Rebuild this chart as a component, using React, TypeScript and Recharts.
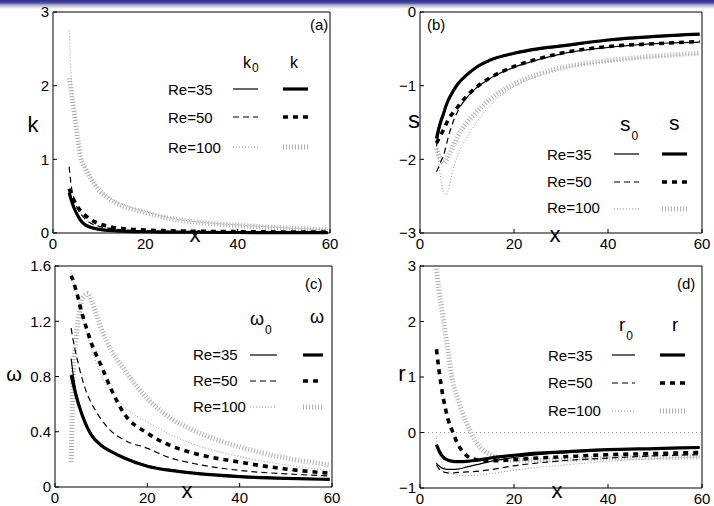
import React from 'react';
import { LineChart, Line, XAxis, YAxis, Legend, ReferenceLine } from 'recharts';

const xPos = [3.5, 4, 4.5, 5, 5.5, 6, 7, 8, 10, 12, 15, 20, 25, 30, 40, 50, 59.5];
const xTicks = [0, 20, 40, 60];
const reLabels = ['Re=35', 'Re=50', 'Re=100'];

// (a) k
const k0Re35 = [0.6, 0.45, 0.36, 0.28, 0.22, 0.17, 0.1, 0.07, 0.045, 0.035, 0.025, 0.017, 0.012, 0.01, 0.007, 0.005, 0.004];
const kRe35 = [0.55, 0.44, 0.35, 0.28, 0.22, 0.17, 0.11, 0.08, 0.05, 0.035, 0.025, 0.017, 0.012, 0.01, 0.007, 0.005, 0.004];
const k0Re50 = [0.9, 0.62, 0.48, 0.38, 0.31, 0.26, 0.19, 0.14, 0.09, 0.065, 0.045, 0.03, 0.022, 0.017, 0.012, 0.009, 0.007];
const kRe50 = [0.6, 0.52, 0.45, 0.39, 0.34, 0.3, 0.24, 0.19, 0.125, 0.09, 0.06, 0.04, 0.03, 0.024, 0.018, 0.014, 0.012];
const k0Re100 = [2.75, 2.05, 1.75, 1.5, 1.25, 1.05, 0.9, 0.78, 0.6, 0.49, 0.39, 0.29, 0.21, 0.16, 0.11, 0.07, 0.045];
const kRe100 = [2.1, 1.9, 1.68, 1.45, 1.22, 1.03, 0.88, 0.76, 0.58, 0.47, 0.37, 0.28, 0.2, 0.155, 0.105, 0.068, 0.044];
const kTicks = [0, 1, 2, 3];

// (b) s
const s0Re35 = [-1.82, -1.64, -1.5, -1.4, -1.3, -1.21, -1.09, -0.99, -0.86, -0.76, -0.66, -0.57, -0.51, -0.47, -0.39, -0.34, -0.31];
const sRe35 = [-1.72, -1.58, -1.47, -1.38, -1.28, -1.2, -1.08, -0.98, -0.85, -0.75, -0.65, -0.56, -0.5, -0.46, -0.38, -0.33, -0.3];
const s0Re50 = [-2.17, -2.1, -2.02, -1.95, -1.83, -1.7, -1.5, -1.35, -1.16, -1.03, -0.9, -0.75, -0.65, -0.57, -0.48, -0.43, -0.41];
const sRe50 = [-1.78, -1.72, -1.66, -1.6, -1.53, -1.46, -1.37, -1.29, -1.14, -1.02, -0.89, -0.74, -0.64, -0.56, -0.47, -0.43, -0.4];
const s0Re100 = [-1.78, -2.05, -2.3, -2.45, -2.48, -2.42, -2.15, -1.95, -1.7, -1.5, -1.26, -1.01, -0.87, -0.77, -0.67, -0.61, -0.57];
const sRe100 = [-1.85, -1.95, -2.02, -2.05, -2.02, -1.96, -1.83, -1.69, -1.5, -1.36, -1.18, -0.98, -0.85, -0.76, -0.66, -0.6, -0.56];
const sTicks = [-3, -2, -1, 0];

// (c) omega
const w0Re35 = [0.93, 0.8, 0.7, 0.63, 0.57, 0.52, 0.44, 0.38, 0.31, 0.265, 0.215, 0.155, 0.125, 0.105, 0.08, 0.066, 0.058];
const wRe35 = [0.81, 0.74, 0.67, 0.61, 0.56, 0.51, 0.43, 0.37, 0.3, 0.26, 0.21, 0.15, 0.12, 0.1, 0.075, 0.062, 0.055];
const w0Re50 = [1.15, 1.05, 0.97, 0.9, 0.83, 0.77, 0.67, 0.6, 0.49, 0.41, 0.34, 0.28, 0.21, 0.17, 0.12, 0.095, 0.08];
const wRe50 = [1.53, 1.49, 1.43, 1.37, 1.3, 1.24, 1.13, 1.03, 0.88, 0.72, 0.53, 0.39, 0.3, 0.245, 0.18, 0.13, 0.1];
const w0Re100 = [1.57, 1.5, 1.43, 1.36, 1.29, 1.22, 1.1, 0.99, 0.81, 0.7, 0.58, 0.47, 0.38, 0.31, 0.22, 0.16, 0.12];
const wRe100 = [0.18, 0.85, 1.05, 1.2, 1.3, 1.37, 1.4, 1.34, 1.15, 1.0, 0.85, 0.64, 0.5, 0.41, 0.29, 0.21, 0.16];
const wTicks = [0, 0.4, 0.8, 1.2, 1.6];

// (d) r
const r0Re35 = [-0.55, -0.6, -0.63, -0.65, -0.66, -0.665, -0.665, -0.66, -0.62, -0.58, -0.52, -0.45, -0.4, -0.37, -0.32, -0.29, -0.27];
const rRe35 = [-0.22, -0.32, -0.4, -0.45, -0.48, -0.5, -0.52, -0.525, -0.52, -0.5, -0.46, -0.41, -0.37, -0.35, -0.31, -0.29, -0.27];
const r0Re50 = [-0.58, -0.65, -0.69, -0.71, -0.72, -0.73, -0.73, -0.72, -0.71, -0.7, -0.67, -0.6, -0.55, -0.51, -0.46, -0.42, -0.4];
const rRe50 = [1.5, 1.15, 0.85, 0.6, 0.4, 0.23, 0.0, -0.2, -0.42, -0.49, -0.51, -0.49, -0.46, -0.44, -0.4, -0.38, -0.36];
const r0Re100 = [-0.1, -0.35, -0.5, -0.6, -0.66, -0.7, -0.75, -0.77, -0.78, -0.77, -0.74, -0.68, -0.63, -0.59, -0.52, -0.47, -0.44];
const rRe100 = [2.95, 2.6, 2.3, 2.02, 1.72, 1.45, 0.9, 0.62, 0.15, -0.18, -0.4, -0.5, -0.5, -0.49, -0.46, -0.45, -0.44];
const rTicks = [-1, 0, 1, 2, 3];

const FONT = '"Liberation Sans", Arial, Helvetica, sans-serif';

const STYLES: Record<string, any> = {
  thin100: { stroke: '#999', strokeWidth: 1, strokeDasharray: '1 2' },
  thick100: { stroke: '#adadad', strokeWidth: 5, strokeDasharray: '1 2' },
  thin50: { stroke: '#000', strokeWidth: 1.2, strokeDasharray: '6 4' },
  thick50: { stroke: '#000', strokeWidth: 3.6, strokeDasharray: '5 5' },
  thin35: { stroke: '#000', strokeWidth: 1.2 },
  thick35: { stroke: '#000', strokeWidth: 3.2 },
};
const ORDER = ['thin100', 'thick100', 'thin50', 'thick50', 'thin35', 'thick35'];

const minus = (v: number) => String(v).replace('-', '\u2212');

function legendSvg(c: any) {
  const rowKeys = [['thin35', 'thick35'], ['thin50', 'thick50'], ['thin100', 'thick100']];
  return (
    <svg width={357} height={253} style={{ fontFamily: FONT, overflow: 'visible' }}>
      <text x={c.tag[0]} y={c.tag[1]} fontSize={15}>{c.tagText}</text>
      <text x={c.head0[0]} y={c.head0[1]} fontSize={c.headSize}>
        {c.sym}
        <tspan dx={1} dy={c.subDy} fontSize={12}>0</tspan>
      </text>
      <text x={c.head1[0]} y={c.head1[1]} fontSize={c.headSize}>{c.sym}</text>
      {reLabels.map((lbl, i) => (
        <g key={lbl}>
          <text x={c.textX} y={c.textY[i]} fontSize={15}>{lbl}</text>
          <line x1={c.thinX[0]} x2={c.thinX[1]} y1={c.lineY[i]} y2={c.lineY[i]} {...STYLES[rowKeys[i][0]]} />
          <line x1={c.thickX[0]} x2={c.thickX[1]} y1={c.lineY[i]} y2={c.lineY[i]} {...STYLES[rowKeys[i][1]]} />
        </g>
      ))}
    </svg>
  );
}

function Panel({ c }: { c: any }) {
  const rows = xPos.map((x, i) => ({
    x,
    thin35: c.series[0][i],
    thick35: c.series[1][i],
    thin50: c.series[2][i],
    thick50: c.series[3][i],
    thin100: c.series[4][i],
    thick100: c.series[5][i],
  }));
  const tickStyle = { fontSize: 15, fill: '#000', fontFamily: FONT };
  const axisStroke = { stroke: '#000', strokeWidth: 1 };
  return (
    <div style={{ position: 'absolute', left: c.left, top: c.top }}>
      <LineChart width={357} height={253} data={rows} margin={c.margin}>
        <XAxis
          dataKey="x"
          type="number"
          domain={[0, 60]}
          ticks={xTicks}
          height={c.xAxisH}
          tickSize={-4}
          tickMargin={9}
          tick={tickStyle}
          axisLine={axisStroke}
          tickLine={axisStroke}
          label={{
            content: () => (
              <text x={c.xLabel[0]} y={c.xLabel[1]} fontSize={22} fontFamily={FONT} textAnchor="middle">x</text>
            ),
          }}
        />
        <XAxis
          xAxisId="top"
          orientation="top"
          type="number"
          domain={[0, 60]}
          ticks={xTicks}
          height={1}
          tickSize={-4}
          tick={false}
          axisLine={axisStroke}
          tickLine={axisStroke}
        />
        <YAxis
          type="number"
          domain={c.yDomain}
          ticks={c.yTicks}
          width={c.yAxisW}
          tickSize={-4}
          tickMargin={8}
          tick={tickStyle}
          tickFormatter={minus}
          axisLine={axisStroke}
          tickLine={axisStroke}
          label={{
            content: () => (
              <text x={c.yLabel[0]} y={c.yLabel[1]} fontSize={c.yLabelSize} fontFamily={FONT} textAnchor="middle">{c.sym}</text>
            ),
          }}
        />
        <YAxis
          yAxisId="right"
          orientation="right"
          type="number"
          domain={c.yDomain}
          ticks={c.yTicks}
          width={1}
          tickSize={-4}
          tick={false}
          axisLine={axisStroke}
          tickLine={axisStroke}
        />
        {c.zeroLine && (
          <ReferenceLine y={0} stroke="#999" strokeWidth={1} strokeDasharray="1 3" />
        )}
        {ORDER.map((k) => (
          <Line
            key={k}
            dataKey={k}
            type="monotone"
            dot={false}
            isAnimationActive={false}
            {...STYLES[k]}
          />
        ))}
        <Legend
          layout="horizontal"
          verticalAlign="middle"
          align="center"
          content={() => legendSvg(c)}
          wrapperStyle={{ left: 0, top: 0, width: 357, height: 253, pointerEvents: 'none' }}
        />
      </LineChart>
    </div>
  );
}

const panelA = {
  left: 0, top: 0,
  margin: { top: 11, right: 26, left: 0, bottom: 0 },
  xAxisH: 20, yAxisW: 53,
  series: [k0Re35, kRe35, k0Re50, kRe50, k0Re100, kRe100],
  yDomain: [0, 3], yTicks: kTicks,
  sym: 'k', yLabel: [33, 132], yLabelSize: 22, xLabel: [195, 242],
  tagText: '(a)', tag: [310, 30],
  head0: [243, 68], head1: [290, 68], headSize: 16, subDy: 4,
  textX: 168, textY: [95, 123, 153], lineY: [89, 117, 147],
  thinX: [233, 258], thickX: [283, 308],
};

const panelB = {
  left: 357, top: 0,
  margin: { top: 11, right: 11, left: 0, bottom: 0 },
  xAxisH: 20, yAxisW: 63,
  series: [s0Re35, sRe35, s0Re50, sRe50, s0Re100, sRe100],
  yDomain: [-3, 0], yTicks: sTicks,
  sym: 's', yLabel: [57, 128], yLabelSize: 24, xLabel: [198, 242],
  tagText: '(b)', tag: [70, 30],
  head0: [263, 131], head1: [312, 130], headSize: 21, subDy: 9,
  textX: 190, textY: [160, 187, 213], lineY: [154, 182, 209],
  thinX: [257, 282], thickX: [305, 330],
};

const panelC = {
  left: 0, top: 253,
  margin: { top: 12, right: 24, left: 0, bottom: 0 },
  xAxisH: 19, yAxisW: 55,
  series: [w0Re35, wRe35, w0Re50, wRe50, w0Re100, wRe100],
  yDomain: [0, 1.6], yTicks: wTicks,
  sym: '\u03c9', yLabel: [14, 128], yLabelSize: 20, xLabel: [187, 245],
  tagText: '(c)', tag: [305, 36],
  head0: [250, 72], head1: [310, 70], headSize: 18, subDy: 9,
  textX: 193, textY: [107, 133, 159], lineY: [102, 128, 154],
  thinX: [250, 277], thickX: [303, 323],
};

const panelD = {
  left: 357, top: 253,
  margin: { top: 12, right: 11, left: 0, bottom: 0 },
  xAxisH: 18, yAxisW: 63,
  series: [r0Re35, rRe35, r0Re50, rRe50, r0Re100, rRe100],
  yDomain: [-1, 3], yTicks: rTicks,
  sym: 'r', yLabel: [45, 128], yLabelSize: 22, xLabel: [200, 245],
  tagText: '(d)', tag: [320, 36],
  head0: [262, 78], head1: [315, 78], headSize: 19, subDy: 9,
  textX: 191, textY: [108, 135, 163], lineY: [102, 130, 158],
  thinX: [255, 278], thickX: [303, 328],
  zeroLine: true,
};

export default function App() {
  return (
    <div style={{ position: 'fixed', left: 0, top: 0, width: 714, height: 506, background: '#fff', overflow: 'hidden', fontFamily: FONT }}>
      <div
        style={{
          position: 'absolute', left: 0, top: 0, width: 714, height: 9,
          background: 'linear-gradient(#2c2d8c 0%, #4a4b9c 30%, #b8b8cc 60%, #ffffff 100%)',
        }}
      />
      <Panel c={panelA} />
      <Panel c={panelB} />
      <Panel c={panelC} />
      <Panel c={panelD} />
    </div>
  );
}
